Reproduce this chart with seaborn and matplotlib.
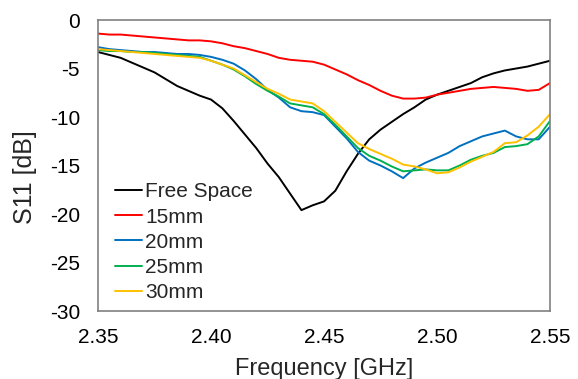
import numpy as np
import pandas as pd
import matplotlib
matplotlib.use("Agg")
import matplotlib.pyplot as plt
import seaborn as sns

# frequency grid [GHz]
freq = [2.350, 2.355, 2.360, 2.365, 2.370, 2.375, 2.380, 2.385, 2.390, 2.395,
        2.400, 2.405, 2.410, 2.415, 2.420, 2.425, 2.430, 2.435, 2.440, 2.445,
        2.450, 2.455, 2.460, 2.465, 2.470, 2.475, 2.480, 2.485, 2.490, 2.495,
        2.500, 2.505, 2.510, 2.515, 2.520, 2.525, 2.530, 2.535, 2.540, 2.545,
        2.550]

# S11 [dB]
free_space = [-3.3, -3.6, -3.9, -4.4, -4.9, -5.4, -6.1, -6.8, -7.3, -7.8,
              -8.2, -9.1, -10.4, -11.8, -13.2, -14.8, -16.2, -17.9, -19.6, -19.1,
              -18.7, -17.6, -15.6, -13.8, -12.3, -11.3, -10.5, -9.7, -9.0, -8.2,
              -7.7, -7.3, -6.9, -6.5, -5.9, -5.5, -5.2, -5.0, -4.8, -4.5,
              -4.2]
mm15 = [-1.4, -1.5, -1.5, -1.6, -1.7, -1.8, -1.9, -2.0, -2.1, -2.1,
        -2.2, -2.4, -2.7, -2.9, -3.2, -3.5, -3.9, -4.1, -4.2, -4.3,
        -4.6, -5.1, -5.6, -6.2, -6.7, -7.3, -7.8, -8.1, -8.1, -8.0,
        -7.7, -7.5, -7.3, -7.1, -7.0, -6.9, -7.0, -7.1, -7.3, -7.2,
        -6.5]
mm20 = [-2.8, -3.0, -3.1, -3.2, -3.3, -3.3, -3.4, -3.5, -3.5, -3.6,
        -3.8, -4.1, -4.5, -5.2, -6.1, -7.2, -8.0, -9.0, -9.4, -9.5,
        -9.8, -11.0, -12.2, -13.6, -14.5, -15.0, -15.6, -16.3, -15.3, -14.7,
        -14.2, -13.7, -13.0, -12.5, -12.0, -11.7, -11.4, -12.0, -12.3, -12.3,
        -11.0]
mm25 = [-3.1, -3.2, -3.2, -3.3, -3.3, -3.4, -3.5, -3.6, -3.7, -3.8,
        -4.2, -4.6, -5.1, -5.8, -6.6, -7.3, -7.9, -8.6, -8.8, -9.0,
        -9.7, -10.8, -12.0, -13.2, -14.0, -14.5, -15.1, -15.6, -15.5, -15.4,
        -15.5, -15.5, -15.0, -14.4, -14.0, -13.7, -13.1, -13.0, -12.8, -12.0,
        -10.4]
mm30 = [-3.0, -3.1, -3.2, -3.3, -3.4, -3.5, -3.6, -3.7, -3.8, -3.9,
        -4.2, -4.6, -5.0, -5.7, -6.4, -7.1, -7.6, -8.2, -8.4, -8.6,
        -9.4, -10.5, -11.6, -12.7, -13.3, -13.8, -14.3, -14.9, -15.1, -15.4,
        -15.8, -15.7, -15.2, -14.6, -14.1, -13.6, -12.7, -12.6, -11.9, -11.0,
        -9.7]

labels = ["Free Space", "15mm", "20mm", "25mm", "30mm"]
colors = ["#000000", "#FF0000", "#0070C0", "#00B050", "#FFC000"]

df = pd.concat([
    pd.DataFrame({"freq": freq, "s11": vals, "case": lab})
    for lab, vals in zip(labels, [free_space, mm15, mm20, mm25, mm30])
])

sns.set_style("white")
plt.rcParams["font.family"] = ["Liberation Sans", "DejaVu Sans"]
plt.rcParams["axes.unicode_minus"] = False

fig = plt.figure(figsize=(5.78, 3.79), dpi=100)
ax = fig.add_axes([0.1696, 0.1794, 0.782, 0.7678])

sns.lineplot(data=df, x="freq", y="s11", hue="case", hue_order=labels,
             palette=colors, linewidth=1.4, ax=ax)

ax.set_xlim(2.35, 2.55)
ax.set_ylim(-30, 0)
ax.set_xticks([2.35, 2.40, 2.45, 2.50, 2.55])
ax.set_xticklabels(["2.35", "2.40", "2.45", "2.50", "2.55"])
ax.set_yticks([0, -5, -10, -15, -20, -25, -30])
ax.tick_params(direction="in", length=5, width=1, color="#808080",
               labelsize=15, labelcolor="black")
ax.tick_params(axis="x", pad=12)
ax.tick_params(axis="y", pad=13)
for sp in ax.spines.values():
    sp.set_color("#808080")
    sp.set_linewidth(1.2)

ax.set_xlabel("Frequency [GHz]", fontsize=17, labelpad=8)
ax.set_ylabel("S11 [dB]", fontsize=18)
ax.yaxis.set_label_coords(-0.135, 0.46)

ax.legend(loc="lower left", bbox_to_anchor=(0.038, 0.03), frameon=False,
          fontsize=15, handlelength=1.3, handletextpad=0.15,
          labelspacing=0.3, borderpad=0, borderaxespad=0)

fig.savefig("out.png", dpi=100)
